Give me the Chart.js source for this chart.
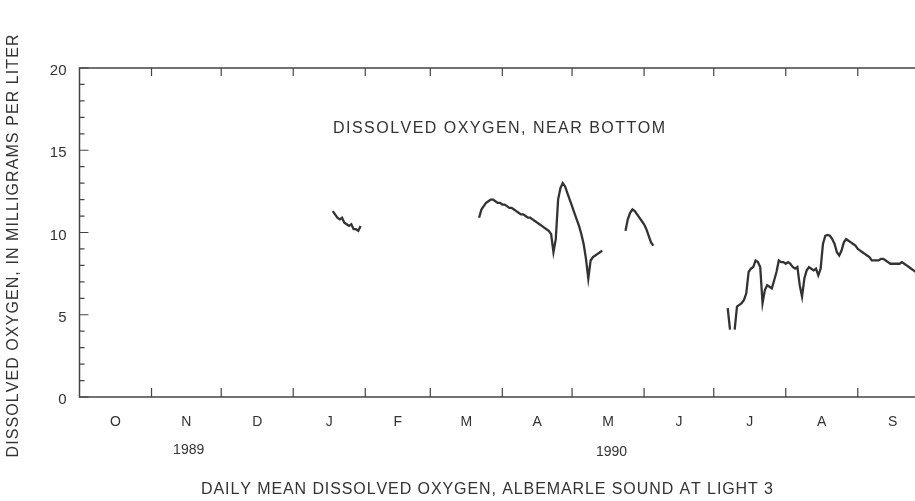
<!DOCTYPE html>
<html><head><meta charset="utf-8">
<script src="https://cdn.jsdelivr.net/npm/chart.js@4"></script>
<style>
html,body{margin:0;padding:0;background:#fff;overflow:hidden;width:915px;height:501px}
#wrap{position:absolute;left:0;top:0;width:940px;height:501px}
</style></head>
<body><div id="wrap"><canvas id="c" width="940" height="501"></canvas></div>
<script>
// ---- data (day 0 = 1 Oct 1989) ----
const monthLabels = ['O','N','D','J','F','M','A','M','J','J','A','S'];
const monthLengths = [31,30,31,31,28,31,30,31,30,31,31,30];
const yearLabels = ['1989','1990'];
const yTickLabels = ['0','5','10','15','20'];

const janStartDay = 109;
const janValues = [11.3,11.1,10.9,10.8,10.9,10.6,10.5,10.4,10.5,10.2,10.2,10.1,10.4];

const marAprStartDay = 172;
const marAprValues = [10.9,11.4,11.6,11.8,11.9,12.0,12.0,11.9,11.8,11.8,11.7,11.7,11.6,11.5,11.5,11.4,
  11.3,11.2,11.1,11.1,11.0,10.9,10.9,10.8,10.7,10.6,10.5,10.4,10.3,10.2,10.1,9.9,8.8,9.6,12.0,12.7,13.0,
  12.8,12.4,12.0,11.6,11.2,10.8,10.4,9.9,9.3,8.4,7.2,8.3,8.5,8.6,8.7,8.8,8.9];

const mayJunStartDay = 235;
const mayJunValues = [10.1,10.8,11.2,11.4,11.3,11.1,10.9,10.7,10.5,10.2,9.8,9.4,9.2];

const julStartDay = 279;
const julValues = [5.4,4.1];

const julSepStartDay = 282;
const julSepValues = [4.1,5.5,5.6,5.7,5.9,6.3,7.6,7.8,7.9,8.3,8.2,7.9,5.7,6.5,6.8,6.7,6.6,7.1,7.6,8.3,
  8.2,8.2,8.1,8.2,8.1,7.9,7.8,7.9,6.8,6.1,7.2,7.7,7.9,7.8,7.7,7.8,7.4,7.8,9.3,9.8,9.85,9.8,9.6,9.3,8.8,
  8.6,8.9,9.4,9.6,9.5,9.4,9.3,9.2,9.0,8.9,8.8,8.7,8.6,8.5,8.3,8.3,8.3,8.3,8.4,8.4,8.3,8.2,8.1,8.1,8.1,
  8.1,8.1,8.2,8.1,8.0,7.9,7.8,7.7,7.6,7.5,7.5,7.4,7.4];

// ---- build points ----
const segments = [
  [janStartDay, janValues],[marAprStartDay, marAprValues],[mayJunStartDay, mayJunValues],
  [julStartDay, julValues],[julSepStartDay, julSepValues]
];
const points = [];
segments.forEach(([s, vals], k) => {
  if (k > 0) points.push({x: s - 0.5, y: null});
  vals.forEach((v, i) => points.push({x: s + i, y: v}));
});
const monthStarts = [];
let acc = 0;
monthLengths.forEach(l => { monthStarts.push(acc); acc += l; });
const monthMids = monthStarts.map((s, i) => s + monthLengths[i] / 2);

const INK = '#333';
const FONT = '"Liberation Sans", Arial, sans-serif';

function spaced(ctx, text, cx, cy, targetW) {
  const chars = [...text];
  const widths = chars.map(c => ctx.measureText(c).width);
  const sum = widths.reduce((a, b) => a + b, 0);
  const extra = chars.length > 1 ? (targetW - sum) / (chars.length - 1) : 0;
  let x = cx - targetW / 2;
  ctx.textAlign = 'left';
  ctx.textBaseline = 'middle';
  chars.forEach((c, i) => { ctx.fillText(c, x, cy); x += widths[i] + extra; });
}

const decor = {
  id: 'decor',
  afterDraw(chart) {
    const {ctx, chartArea: a, scales: {x, y}} = chart;
    ctx.save();
    ctx.strokeStyle = '#444';
    ctx.lineWidth = 1.5;
    ctx.strokeRect(a.left, a.top, a.right - a.left, a.bottom - a.top);
    ctx.lineWidth = 1.2;
    ctx.beginPath();
    for (let v = 0; v <= 20; v++) {
      const py = y.getPixelForValue(v);
      const len = v % 5 === 0 ? 9 : 5;
      ctx.moveTo(a.left, py); ctx.lineTo(a.left + len, py);
      ctx.moveTo(a.right, py); ctx.lineTo(a.right - len, py);
    }
    monthStarts.slice(1).forEach(d => {
      const px = x.getPixelForValue(d);
      ctx.moveTo(px, a.bottom); ctx.lineTo(px, a.bottom - 9);
      ctx.moveTo(px, a.top); ctx.lineTo(px, a.top + 8);
    });
    ctx.stroke();

    ctx.fillStyle = INK;
    ctx.font = '14px ' + FONT;
    ctx.textAlign = 'center';
    ctx.textBaseline = 'middle';
    ctx.fillText(yearLabels[0], x.getPixelForValue(47), 450);
    ctx.fillText(yearLabels[1], x.getPixelForValue(229), 452);

    ctx.font = '16px ' + FONT;
    spaced(ctx, 'DISSOLVED OXYGEN, NEAR BOTTOM', 499, 129, 332);
    spaced(ctx, 'DAILY MEAN DISSOLVED OXYGEN, ALBEMARLE SOUND AT LIGHT 3', 487, 490, 572);
    ctx.save();
    ctx.translate(14, 246);
    ctx.rotate(-Math.PI / 2);
    spaced(ctx, 'DISSOLVED OXYGEN, IN MILLIGRAMS PER LITER', 0, 0, 423);
    ctx.restore();
    ctx.restore();
  }
};

new Chart(document.getElementById('c'), {
  type: 'line',
  data: {
    datasets: [{
      data: points,
      borderColor: INK,
      borderWidth: 2.3,
      pointRadius: 0,
      tension: 0,
      spanGaps: false,
      fill: false
    }]
  },
  options: {
    responsive: false,
    animation: false,
    devicePixelRatio: 1,
    layout: {padding: {left: 0, right: 12.5, top: 68, bottom: 0}},
    plugins: {legend: {display: false}, tooltip: {enabled: false}, title: {display: false}},
    scales: {
      x: {
        type: 'linear', min: 0, max: 365,
        grid: {display: false, drawTicks: false}, border: {display: false},
        afterBuildTicks: s => { s.ticks = monthMids.map(v => ({value: v})); },
        afterFit: s => { s.height = 104; },
        ticks: {
          autoSkip: false, maxRotation: 0, padding: 17,
          color: INK, font: {family: FONT, size: 14},
          callback: (v, i) => monthLabels[i]
        }
      },
      y: {
        min: 0, max: 20,
        grid: {display: false, drawTicks: false}, border: {display: false},
        afterFit: s => { s.width = 79.5; },
        ticks: {
          stepSize: 5, padding: 13, labelOffset: 3,
          color: INK, font: {family: FONT, size: 15},
          callback: (v, i) => yTickLabels[i]
        }
      }
    }
  },
  plugins: [decor]
});
</script>
</body></html>
